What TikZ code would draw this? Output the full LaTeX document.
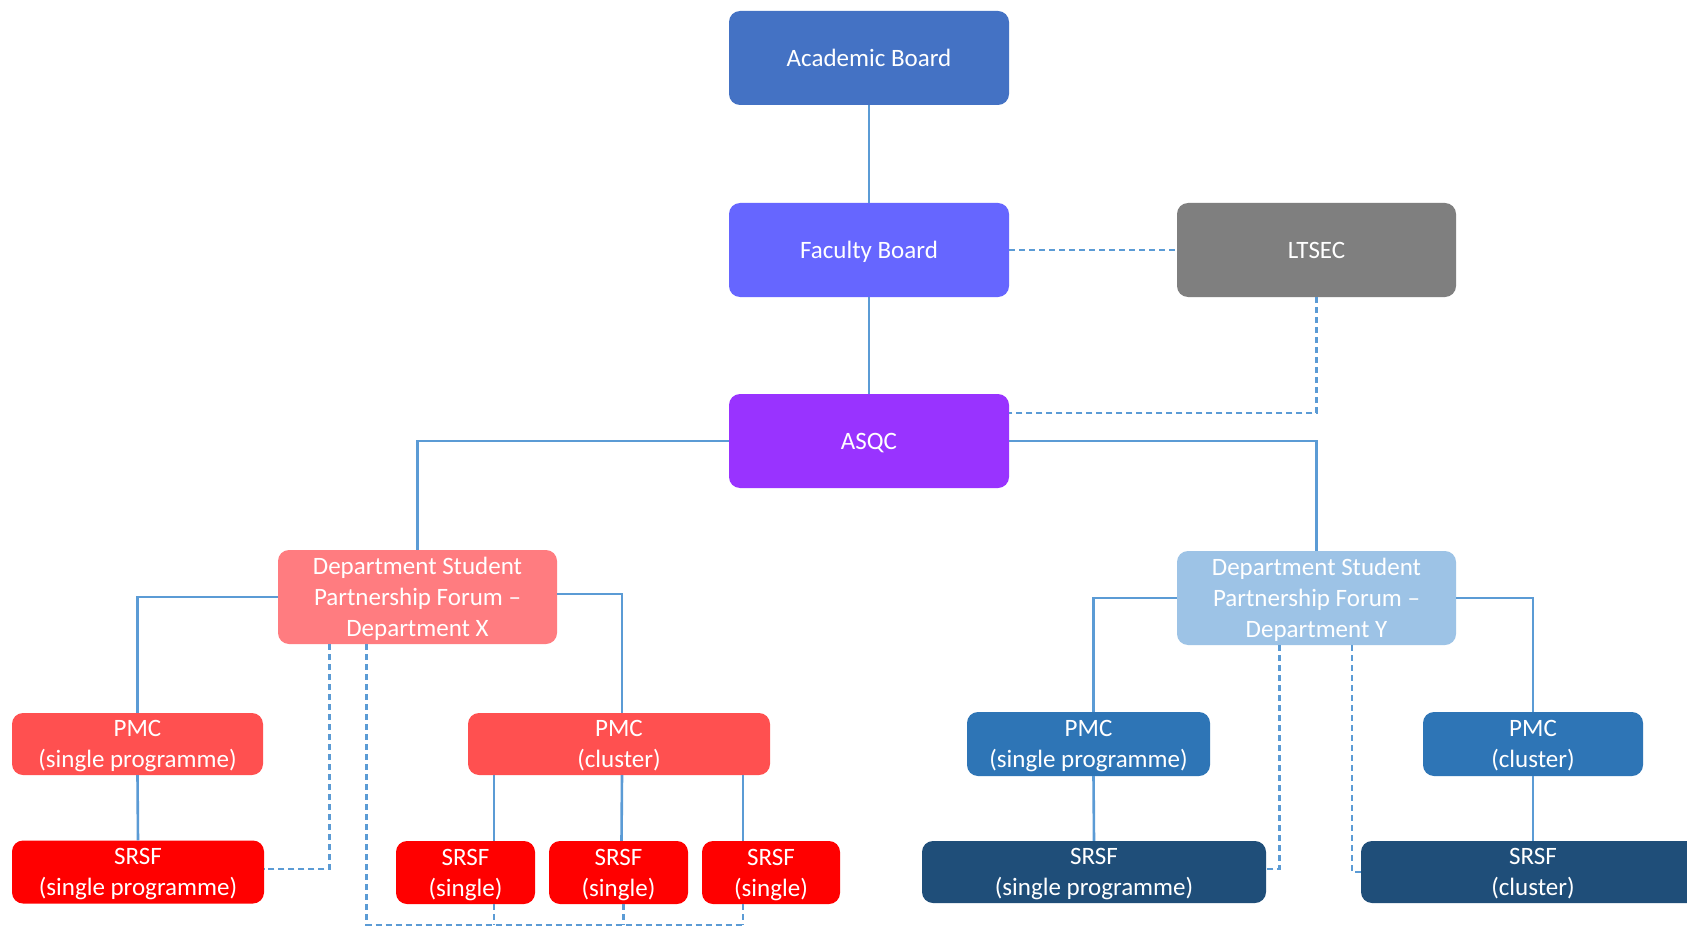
\documentclass[tikz,border=0pt]{standalone}
\usepackage{fontspec}
\setmainfont{Carlito}
\definecolor{cAB}{HTML}{4472C4}
\definecolor{cFB}{HTML}{6666FF}
\definecolor{cLT}{HTML}{7F7F7F}
\definecolor{cAS}{HTML}{9933FF}
\definecolor{cDX}{HTML}{FF7C80}
\definecolor{cPX}{HTML}{FF5050}
\definecolor{cSX}{HTML}{FF0000}
\definecolor{cDY}{HTML}{9DC3E6}
\definecolor{cPY}{HTML}{2E75B6}
\definecolor{cSY}{HTML}{1F4E79}
\definecolor{cLine}{HTML}{5B9BD5}
\begin{document}
\begin{tikzpicture}[x=1pt,y=-1pt,
  box/.style={rectangle, rounded corners=11pt, text=white, align=center,
    font=\fontsize{25}{31}\selectfont, inner sep=0pt, text depth=-2pt},
  link/.style={draw=cLine, line width=2.6pt},
  dlink/.style={draw=cLine, line width=2.3pt, dash pattern=on 6pt off 4pt}]
\useasboundingbox (0,0) rectangle (1687,928);
\clip (0,0) rectangle (1687,928);
\fill[white] (0,0) rectangle (1687,928);
% nodes
\node[box, fill=cAB, minimum width=280pt, minimum height=94pt] (ab) at (869,58) {Academic Board};
\node[box, fill=cFB, minimum width=280pt, minimum height=94pt] (fb) at (869,250) {Faculty Board};
\node[box, fill=cLT, minimum width=279pt, minimum height=94pt] (lt) at (1316.5,250) {LTSEC};
\node[box, fill=cAS, minimum width=280pt, minimum height=94pt] (asqc) at (869,441) {ASQC};
\node[box, fill=cDX, minimum width=279pt, minimum height=94pt] (dx) at (417.5,597) {Department Student\\Partnership Forum --\\Department X};
\node[box, fill=cDY, minimum width=279pt, minimum height=94pt] (dy) at (1316.5,598) {Department Student\\Partnership Forum --\\Department Y};
\node[box, fill=cPX, minimum width=251pt, minimum height=62pt] (pmc1) at (137.5,744) {PMC\\(single programme)};
\node[box, fill=cPX, minimum width=302pt, minimum height=62pt] (pmc2) at (619,744) {PMC\\(cluster)};
\node[box, fill=cSX, minimum width=252pt, minimum height=63pt] (srsf1) at (138,872) {SRSF\\(single programme)};
\node[box, fill=cSX, minimum width=139pt, minimum height=63pt] (s1) at (465.5,872.5) {SRSF\\(single)};
\node[box, fill=cSX, minimum width=139pt, minimum height=63pt] (s2) at (618.5,872.5) {SRSF\\(single)};
\node[box, fill=cSX, minimum width=138pt, minimum height=63pt] (s3) at (771,872.5) {SRSF\\(single)};
\node[box, fill=cPY, minimum width=243pt, minimum height=64pt] (pmc3) at (1088.5,744) {PMC\\(single programme)};
\node[box, fill=cPY, minimum width=220pt, minimum height=64pt] (pmc4) at (1533,744) {PMC\\(cluster)};
\node[box, fill=cSY, minimum width=344pt, minimum height=62pt] (srsf5) at (1094,872) {SRSF\\(single programme)};
\node[box, fill=cSY, minimum width=344pt, minimum height=62pt] (srsf6) at (1533,872) {SRSF\\(cluster)};
\coordinate (busR) at (743,925);
% solid connectors
\draw[link] (ab.south) -- (fb.north);
\draw[link] (fb.south) -- (asqc.north);
\draw[link] (asqc.west) -| (dx.north);
\draw[link] (asqc.east) -| (dy.north);
\draw[link] (dx.west) -| (pmc1.north);
\draw[link] ([yshift=3pt]dx.east) -| ([xshift=3pt]pmc2.north);
\draw[link] (pmc1.south) -- (srsf1.north);
\draw[link] ([xshift=-125pt]pmc2.south) -- ([xshift=28.5pt]s1.north);
\draw[link] ([xshift=3pt]pmc2.south) -- ([xshift=3pt]s2.north);
\draw[link] ([xshift=124pt]pmc2.south) -- ([xshift=-28pt]s3.north);
\draw[link] (dy.west) -| ([xshift=5pt]pmc3.north);
\draw[link] (dy.east) -| (pmc4.north);
\draw[link] ([xshift=5pt]pmc3.south) -- (srsf5.north);
\draw[link] (pmc4.south) -- (srsf6.north);
% dashed connectors
\draw[dlink] (fb.east) -- (lt.west);
\draw[dlink] (lt.south) |- ([yshift=28pt]asqc.east);
\draw[dlink] ([xshift=-88pt]dx.south) |- ([yshift=3pt]srsf1.east);
\draw[dlink] ([xshift=-51pt]dx.south) |- (busR);
\draw[dlink] ([xshift=28.5pt]s1.south) -- ++(0,21);
\draw[dlink] ([xshift=5pt]s2.south) -- ++(0,21);
\draw[dlink] ([xshift=-28pt]s3.south) -- ++(0,21);
\draw[dlink] ([xshift=-37pt]dy.south) |- ([yshift=3pt]srsf5.east);
\draw[dlink] ([xshift=35.5pt]dy.south) |- (srsf6.west);
\end{tikzpicture}
\end{document}
